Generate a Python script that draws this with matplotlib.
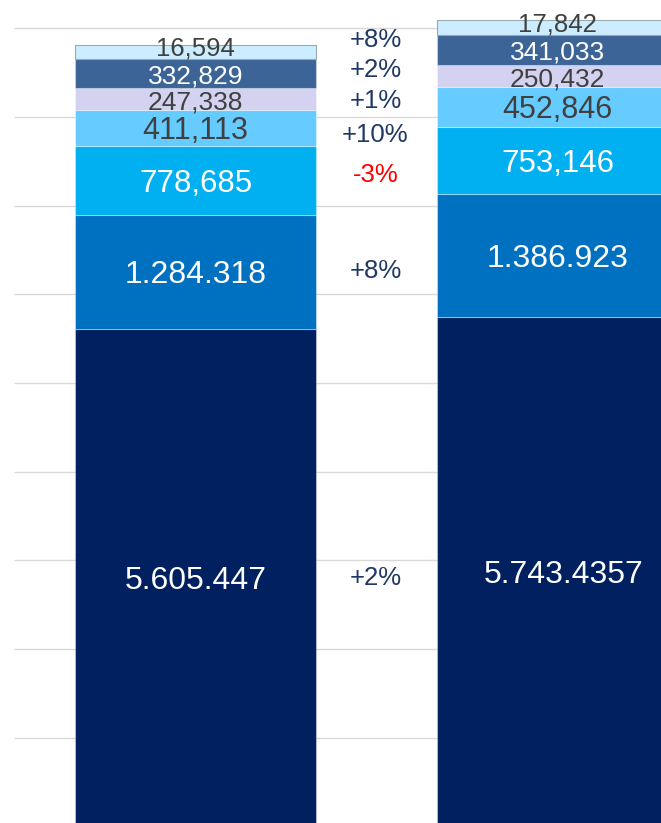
import matplotlib
matplotlib.use("Agg")
import matplotlib.pyplot as plt
from matplotlib.transforms import offset_copy

plt.rcParams['font.family'] = ['Liberation Sans', 'DejaVu Sans']

# ---- data ----
categories = ['Year 1', 'Year 2']
seg_navy = [5605447, 5743436]
seg_blue = [1284318, 1386923]
seg_cyan = [778685, 753146]
seg_lightblue = [411113, 452846]
seg_lavender = [247338, 250432]
seg_steel = [332829, 341033]
seg_top = [158000, 161000]  # heights as drawn in the picture

lbl_navy = ['5.605.447', '5.743.4357']
lbl_blue = ['1.284.318', '1.386.923']
lbl_cyan = ['778,685', '753,146']
lbl_lightblue = ['411,113', '452,846']
lbl_lavender = ['247,338', '250,432']
lbl_steel = ['332,829', '341,033']
lbl_top = ['16,594', '17,842']

change_labels = ['+8%', '+2%', '+1%', '+10%', '-3%', '+8%', '+2%']
change_colors = ['#1F3864', '#1F3864', '#1F3864', '#1F3864', '#FF0000', '#1F3864', '#1F3864']

# ---- style / layout ----
W, H = 661, 823
fig = plt.figure(figsize=(W / 100, H / 100), dpi=100)
ax = fig.add_axes([0, 0, 1, 1])
ax.axis('off')

unit_px = 362.0
x0_px = 195.5
ax.set_xlim(-x0_px / unit_px, (W - x0_px) / unit_px)
px_per_m = 88.65
zero_px = 826.2
ax.set_ylim((zero_px - H) / px_per_m * 1e6, zero_px / px_per_m * 1e6)

# gridlines
ax.hlines([i * 1e6 for i in range(1, 10)], xmin=(14 - x0_px) / unit_px,
          xmax=(W - x0_px) / unit_px, color='#D9D9D9', lw=1.0, zorder=0)

xs = [0, 1]
width = 241 / unit_px
series = [
    (seg_navy, lbl_navy, '#002060', 'white', 23),
    (seg_blue, lbl_blue, '#0070C0', 'white', 23),
    (seg_cyan, lbl_cyan, '#00B0F0', 'white', 22.5),
    (seg_lightblue, lbl_lightblue, '#66CCFF', '#404040', 22),
    (seg_lavender, lbl_lavender, '#D3D2F0', '#404040', 19),
    (seg_steel, lbl_steel, '#3C6497', 'white', 19),
    (seg_top, lbl_top, '#CCECFF', '#404040', 18.5),
]

# label pixel offsets (dx, dy) in points for a few labels
def label_offset(series_idx, bar_idx):
    if series_idx == len(series) - 1:
        return 0, 2.0
    if series_idx == 0 and bar_idx == 1:
        return 4.5, -2.2
    return 0, -2.2

bottoms = [0, 0]
for idx, (vals, lbls, col, tcol, fs) in enumerate(series):
    is_top = idx == len(series) - 1
    ax.bar(xs, vals, width=width, bottom=bottoms, color=col,
           edgecolor=('#9AAAAA' if is_top else (1, 1, 1, 0.35)),
           linewidth=0.8, zorder=2)
    for i, (v, l) in enumerate(zip(vals, lbls)):
        dx, dy = label_offset(idx, i)
        tr = offset_copy(ax.transData, fig=fig, x=dx, y=dy, units='points')
        ax.text(xs[i], bottoms[i] + v / 2, l, ha='center', va='center',
                color=tcol, fontsize=fs, zorder=3, transform=tr)
    bottoms = [b + v for b, v in zip(bottoms, vals)]

# change labels between bars (pixel rows in the picture)
change_rows_px = [40, 70, 101, 135, 175, 271, 578]
for txt, c, py in zip(change_labels, change_colors, change_rows_px):
    ax.text(0.497, (zero_px - py) / px_per_m * 1e6, txt, ha='center',
            va='center', color=c, fontsize=18.5, zorder=3)

fig.savefig('out.png', dpi=100)
